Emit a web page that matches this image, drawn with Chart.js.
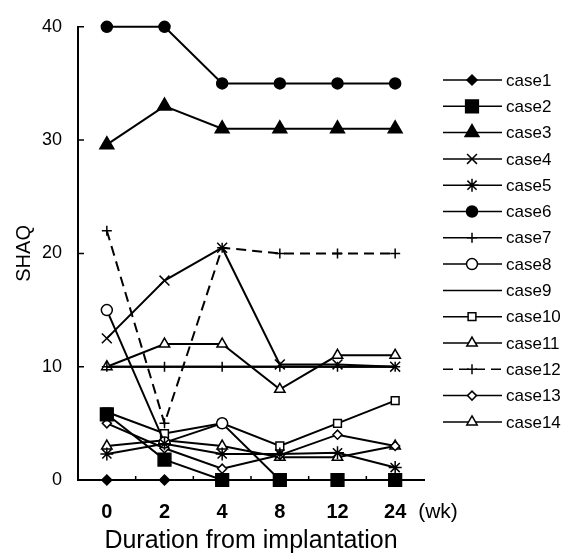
<!DOCTYPE html>
<html>
<head>
<meta charset="utf-8">
<script src="https://cdn.jsdelivr.net/npm/chart.js@4.4.0/dist/chart.umd.min.js"></script>
<style>
  html, body { margin: 0; padding: 0; background: #fff; }
  canvas { display: block; }
</style>
</head>
<body>
<canvas id="chart" width="588" height="558"></canvas>
<script>
// ------------ data ------------
const weeks = ["0", "2", "4", "8", "12", "24"];
const caseNames = ["case1", "case2", "case3", "case4", "case5", "case6", "case7",
  "case8", "case9", "case10", "case11", "case12", "case13", "case14"];

const case1  = [0, 0, 0, 0, 0, 0];
const case2  = [5.8, 1.8, 0, 0, 0, 0];
const case3  = [29.6, 33, 31, 31, 31, 31];
const case4  = [12.5, 17.6, 20.5, 10.2, 10.2, 10];
const case5  = [2.3, 3.2, 2.3, 2.3, 2.4, 1.1];
const case6  = [40, 40, 35, 35, 35, 35];
const case7  = [10, 10, 10, 10, 10, 10];
const case8  = [15, 3.3, 5, 0, 0, 0];
const case9  = [10, 10, 10, 10, 10, 10];
const case10 = [6, 4.1, 5, 3, 5, 7];
const case11 = [10, 12, 12, 8, 11, 11];
const case12 = [22, 5, 20.5, 20, 20, 20];
const case13 = [5, 2.8, 1, 2.2, 4, 3];
const case14 = [3, 3.5, 3, 2, 2, 3];

const yTicks = [0, 10, 20, 30, 40];

const allCases = [case1, case2, case3, case4, case5, case6, case7,
  case8, case9, case10, case11, case12, case13, case14];

// ------------ looks ------------
const FONT = "'Liberation Sans', Arial, sans-serif";
const markers = [
  { style: "rectRot",  r: 5,   fill: "#000" },
  { style: "rect",     r: 9,   fill: "#000" },
  { style: "triangle", r: 8,   fill: "#000" },
  { style: "crossRot", r: 7,   fill: "#000" },
  { style: "star",     r: 6.5, fill: "#000" },
  { style: "circle",   r: 5.5, fill: "#000" },
  { style: "cross",    r: 5,   fill: "#000" },
  { style: "circle",   r: 5.5, fill: "#fff" },
  { style: "circle",   r: 0,   fill: "#fff" },
  { style: "rect",     r: 5.5, fill: "#fff" },
  { style: "triangle", r: 6,   fill: "#fff" },
  { style: "cross",    r: 5,   fill: "#000", dash: [10, 6] },
  { style: "rectRot",  r: 4.5, fill: "#fff" },
  { style: "triangle", r: 6,   fill: "#fff" }
];

const datasets = allCases.map((vals, i) => ({
  label: caseNames[i],
  data: vals,
  borderColor: "#000",
  borderWidth: 2,
  borderDash: markers[i].dash || [],
  pointStyle: markers[i].style,
  pointRadius: markers[i].r,
  pointBorderWidth: 1.5,
  pointBorderColor: "#000",
  pointBackgroundColor: markers[i].fill,
  fill: false,
  tension: 0,
  clip: false
}));

// inward ticks, "(wk)" and the line legend on the right
const decor = {
  id: "decor",
  afterDraw(chart) {
    const ctx = chart.ctx;
    const xs = chart.scales.x, ys = chart.scales.y;
    const area = chart.chartArea;
    ctx.save();
    ctx.strokeStyle = "#000";
    ctx.lineWidth = 1.5;
    ctx.beginPath();
    yTicks.forEach(v => {
      const py = ys.getPixelForValue(v);
      ctx.moveTo(area.left, py);
      ctx.lineTo(area.left + 6, py);
    });
    for (let i = 1; i < weeks.length; i++) {
      const px = (xs.getPixelForValue(i - 1) + xs.getPixelForValue(i)) / 2;
      ctx.moveTo(px, area.bottom);
      ctx.lineTo(px, area.bottom - 4);
    }
    ctx.stroke();

    ctx.fillStyle = "#000";
    ctx.font = "21px " + FONT;
    ctx.textAlign = "center";
    ctx.textBaseline = "middle";
    ctx.fillText("(wk)", 438, 512);

    // legend
    ctx.font = "17px " + FONT;
    ctx.textAlign = "left";
    datasets.forEach((ds, i) => {
      const y = 80 + i * 26.3;
      ctx.save();
      ctx.lineWidth = 1.5;
      ctx.setLineDash(ds.borderDash);
      ctx.beginPath();
      ctx.moveTo(443, y);
      ctx.lineTo(502, y);
      ctx.stroke();
      ctx.restore();
      if (ds.pointRadius > 0) {
        ctx.save();
        ctx.fillStyle = ds.pointBackgroundColor;
        ctx.strokeStyle = "#000";
        ctx.lineWidth = 1.5;
        Chart.helpers.drawPoint(ctx, {
          pointStyle: ds.pointStyle,
          radius: ds.pointRadius,
          borderWidth: 1.5,
          rotation: 0
        }, 472, y);
        ctx.restore();
      }
      ctx.fillStyle = "#000";
      ctx.fillText(ds.label, 506, y + 1);
    });
    ctx.restore();
  }
};

new Chart(document.getElementById("chart"), {
  type: "line",
  data: { labels: weeks, datasets: datasets },
  plugins: [decor],
  options: {
    responsive: false,
    animation: false,
    layout: { padding: { left: 0, top: 16, right: 164, bottom: 0 } },
    plugins: { legend: { display: false }, tooltip: { enabled: false } },
    scales: {
      x: {
        offset: true,
        grid: { display: true, drawOnChartArea: false, drawTicks: false, color: "rgba(0,0,0,0)" },
        border: { display: true, color: "#000", width: 2 },
        ticks: { color: "#000", font: { family: FONT, size: 20, weight: "bold" }, padding: 20, maxRotation: 0, autoSkip: false },
        title: { display: true, text: "Duration from implantation", color: "#000",
                 font: { family: FONT, size: 25 }, padding: { top: 0, bottom: 2 } },
        afterFit: s => { s.height = 78; }
      },
      y: {
        min: 0,
        max: 40,
        afterBuildTicks: s => { s.ticks = yTicks.map(v => ({ value: v })); },
        grid: { display: true, drawOnChartArea: false, drawTicks: false, color: "rgba(0,0,0,0)" },
        border: { display: true, color: "#000", width: 2 },
        ticks: { color: "#000", font: { family: FONT, size: 18 }, padding: 16 },
        title: { display: true, text: "SHAQ", color: "#000",
                 font: { family: FONT, size: 20 }, padding: { top: 12, bottom: 0 } },
        afterFit: s => { s.width = 78; }
      }
    }
  }
});
</script>
</body>
</html>
